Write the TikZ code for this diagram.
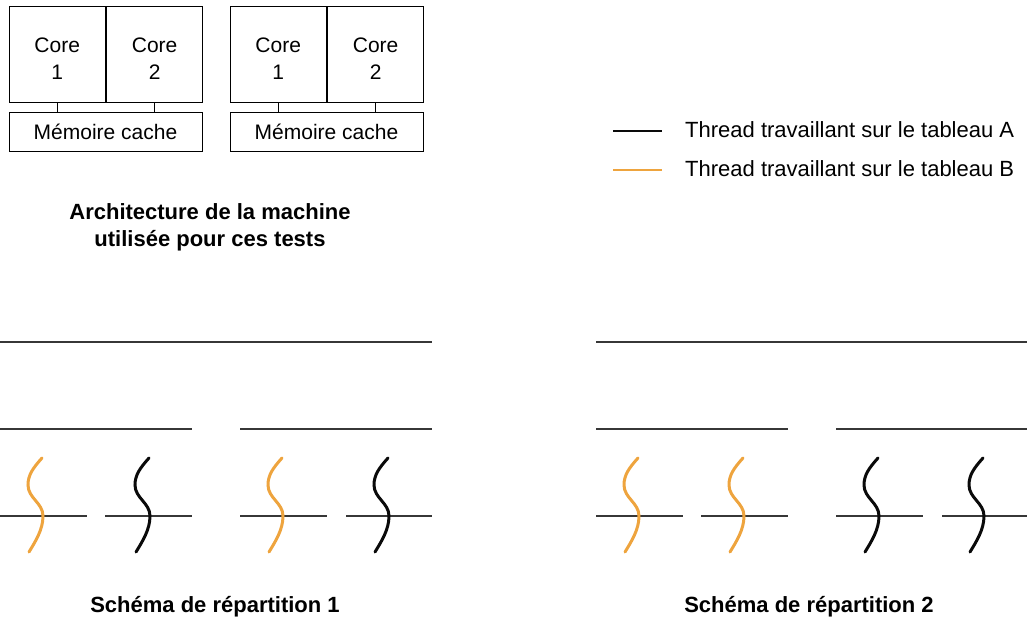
\documentclass[tikz,border=0pt]{standalone}
\usepackage{fontspec}
\setmainfont{Liberation Sans}
\usetikzlibrary{positioning}
\definecolor{threadA}{RGB}{10,10,10}
\definecolor{threadB}{RGB}{238,164,62}
\definecolor{rule}{RGB}{55,55,55}

\begin{document}
\begin{tikzpicture}[
      x=1pt,y=-1pt,
      core/.style={
         rectangle,
         draw=black,
         line width=0.9pt,
         minimum width=96.5pt,
         minimum height=96pt,
         align=center,
         inner sep=0pt,
         text height=55pt,
         text depth=4pt,
         font=\fontsize{21}{27}\selectfont
      },
      cache/.style={
         rectangle,
         draw=black,
         line width=0.9pt,
         minimum width=193pt,
         minimum height=39pt,
         inner sep=0pt,
         font=\fontsize{21}{27}\selectfont
      },
      caption/.style={
         align=center,
         font=\fontsize{22}{27}\selectfont\bfseries
      },
      legend/.style={
         anchor=west,
         inner sep=0pt,
         font=\fontsize{22}{27}\selectfont
      },
      bus/.style={line width=0.9pt},
      level/.style={line width=1.3pt,draw=rule},
      thread/.style={line width=3pt,line cap=round},
      point/.style={coordinate}
    ]
    \useasboundingbox (0,0) rectangle (1027,629);

    % machine
    \node (c11) [core] at (57.25,54)  {Core\\1};
    \node (c12) [core, right=0pt of c11] {Core\\2};
    \node (m1)  [cache] at (105.5,131.5) {Mémoire cache};
    \node (c21) [core] at (278.25,54) {Core\\1};
    \node (c22) [core, right=0pt of c21] {Core\\2};
    \node (m2)  [cache] at (326.5,131.5) {Mémoire cache};
    \draw[bus] (c11.south) -- (c11.south |- m1.north);
    \draw[bus] (c12.south) -- (c12.south |- m1.north);
    \draw[bus] (c21.south) -- (c21.south |- m2.north);
    \draw[bus] (c22.south) -- (c22.south |- m2.north);
    \node (arch) [caption] at (210,227) {Architecture de la machine\\utilisée pour ces tests};

    % legend
    \node (la) [point] at (613,131) {};
    \node (la2) [point] at (662,131) {};
    \node (lb) [point] at (613,170) {};
    \node (lb2) [point] at (662,170) {};
    \draw[thread, line width=2.5pt, line cap=butt, threadA] (la) -- (la2);
    \draw[thread, line width=2.5pt, line cap=butt, threadB] (lb) -- (lb2);
    \node (ta) [legend] at (685,130) {Thread travaillant sur le tableau A};
    \node (tb) [legend] at (685,169) {Thread travaillant sur le tableau B};

    % repartition schemes
    \foreach \dx in {0,596} {
      \draw[level] (\dx,342) -- ({\dx+432},342);
      \draw[level] (\dx,429) -- ({\dx+192},429);
      \draw[level] ({\dx+240},429) -- ({\dx+432},429);
      \draw[level] (\dx,516) -- ({\dx+87},516);
      \draw[level] ({\dx+105},516) -- ({\dx+192},516);
      \draw[level] ({\dx+240},516) -- ({\dx+327},516);
      \draw[level] ({\dx+346},516) -- ({\dx+432},516);
    }
    \foreach \xc/\col in {43/threadB,150/threadA,283/threadB,389/threadA,
                          639/threadB,744/threadB,879/threadA,984/threadA} {
      \draw[thread, \col] ({\xc-1},458)
         .. controls ({\xc-10},468) and ({\xc-15},475) .. ({\xc-15},485)
         .. controls ({\xc-15},498) and (\xc,503) .. (\xc,516)
         .. controls (\xc,530) and ({\xc-8},542) .. ({\xc-14},552);
    }
    \node (s1) [caption] at (215,607) {Schéma de répartition 1};
    \node (s2) [caption] at (809,607) {Schéma de répartition 2};
\end{tikzpicture}
\end{document}
